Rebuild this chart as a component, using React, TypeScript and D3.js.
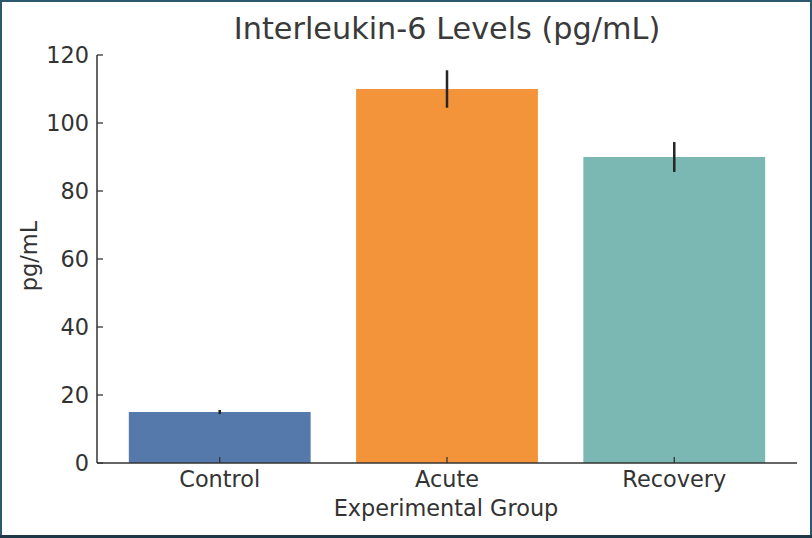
import React from "react";
import * as d3 from "d3";

const categories = ["Control", "Acute", "Recovery"];
const values = [15, 110, 90];
const errors = [0.6, 5.5, 4.4];
const colors = ["#5479aa", "#f3943b", "#7bb8b4"];
const yTicks = [0, 20, 40, 60, 80, 100, 120];

const W = 812;
const H = 538;
const M = { left: 97, right: 797, top: 55, bottom: 463 };

export default function App() {
  const x = d3.scaleLinear().domain([-0.54, 2.54]).range([M.left, M.right]);
  const y = d3.scaleLinear().domain([0, 120]).range([M.bottom, M.top]);
  const bw = x(0.4) - x(-0.4);
  const font = "'DejaVu Sans', sans-serif";
  const txt = "#333333";
  const fs = 22.4;
  return (
    <div style={{ position: "absolute", left: 0, top: 0 }}>
      <svg width={W} height={H} style={{ display: "block", background: "#fff" }}>
        <rect x={1} y={1} width={W - 2} height={H - 2.5} fill="#fff" stroke="#2c5870" strokeWidth={2} />
        <line x1={0} x2={W} y1={H - 1.5} y2={H - 1.5} stroke="#1d3848" strokeWidth={3} />
        <text x={447} y={39} textAnchor="middle" fontFamily={font} fontSize={30.3} fill="#3a3a3a">
          Interleukin-6 Levels (pg/mL)
        </text>
        {categories.map((c, i) => (
          <g key={c}>
            <rect x={x(i) - bw / 2} y={y(values[i])} width={bw} height={y(0) - y(values[i])} fill={colors[i]} />
            <line x1={x(i)} x2={x(i)} y1={y(values[i] + errors[i])} y2={y(values[i] - errors[i])} stroke="#262626" strokeWidth={2.5} />
          </g>
        ))}
        {/* y axis */}
        <line x1={M.left} x2={M.left} y1={M.top} y2={M.bottom} stroke="#333" strokeWidth={1.5} />
        {yTicks.map((t) => (
          <g key={t}>
            <line x1={M.left} x2={M.left + 6} y1={y(t)} y2={y(t)} stroke="#333" strokeWidth={1.3} />
            <text x={M.left - 8} y={y(t)} dy="0.36em" textAnchor="end" fontFamily={font} fontSize={fs} fill={txt}>
              {t}
            </text>
          </g>
        ))}
        {/* x axis */}
        <line x1={M.left} x2={M.right} y1={M.bottom} y2={M.bottom} stroke="#333" strokeWidth={1.5} />
        {categories.map((c, i) => (
          <g key={c + "t"}>
            <line x1={x(i)} x2={x(i)} y1={M.bottom} y2={M.bottom - 6} stroke="#333" strokeWidth={1.3} />
            <text x={x(i)} y={487} textAnchor="middle" fontFamily={font} fontSize={fs} fill={txt}>
              {c}
            </text>
          </g>
        ))}
        <text x={446} y={516} textAnchor="middle" fontFamily={font} fontSize={fs} fill={txt}>
          Experimental Group
        </text>
        <text transform={`translate(37,256) rotate(-90)`} textAnchor="middle" fontFamily={font} fontSize={fs} fill={txt}>
          pg/mL
        </text>
      </svg>
    </div>
  );
}
